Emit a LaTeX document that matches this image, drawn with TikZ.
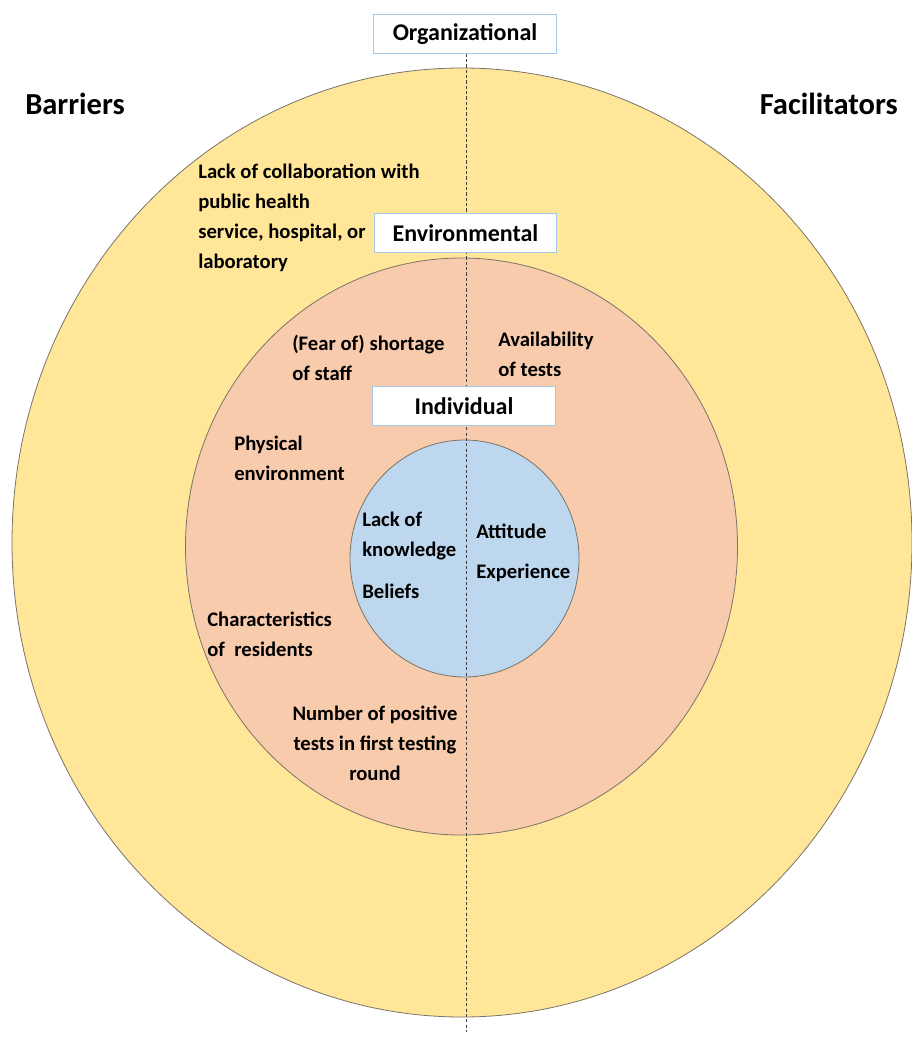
\documentclass[tikz,border=0pt]{standalone}
\usepackage{fontspec}
\setmainfont{Carlito}
\usepackage{xcolor}

\definecolor{orgfill}{HTML}{FFE699}
\definecolor{envfill}{HTML}{F8CBAD}
\definecolor{indfill}{HTML}{BDD7EE}
\definecolor{boxline}{HTML}{A4C8E8}
\definecolor{rimline}{HTML}{7A7468}

\tikzset{
  level/.style={draw=boxline, line width=0.75pt, fill=white, minimum width=137pt, minimum height=29pt, inner sep=0pt, font=\fontsize{18}{22}\selectfont\bfseries},
  lbl/.style={inner sep=0pt, align=left, anchor=west, font=\fontsize{15.5}{22.5}\selectfont\bfseries},
  side/.style={inner sep=0pt, font=\fontsize{22.9}{26}\selectfont\bfseries},
  rim/.style={draw=rimline, line width=0.6pt}
}

\begin{document}
\begin{tikzpicture}[x=0.75pt,y=0.75pt,yscale=-1]
\useasboundingbox (0,0) rectangle (912,1037);

%Shape: Ellipse [organizational]
\draw [rim, fill=orgfill] (462,542.5) ellipse [x radius=450, y radius=474.5];
%Shape: Ellipse [environmental]
\draw [rim, fill=envfill] (461.5,546.5) ellipse [x radius=276, y radius=288.5];
%Shape: Ellipse [individual]
\draw [rim, fill=indfill] (464.5,558.5) ellipse [x radius=114.5, y radius=118.5];

% Level boxes
\node [level] (org) at (465,34) {Organizational};
\coordinate (axisend) at (466,1032);
%Straight Lines [dividing axis]
\draw [dash pattern={on 2.4pt off 1.6pt}, line width=0.75pt, color=black!75] (org.south -| axisend) -- (axisend);
\node [level] (env) at (465.5,233) {Environmental};
\node [level] (ind) at (464,406) {Individual};

% Side titles
\node [side, anchor=west] (barriers) at (25,104) {Barriers};
\node [side, anchor=east] (facil) at (898,104) {Facilitators};

% Text Node
\node [lbl] (collab) at (198,218) {Lack of collaboration with\\public health\\service, hospital, or\\laboratory};
% Text Node
\node [lbl] (staff) at (292,357.5) {(Fear of) shortage\\of staff};
% Text Node
\node [lbl] (avail) at (498,354.5) {Availability\\of tests};
% Text Node
\node [lbl] (phys) at (234,458) {Physical\\environment};
% Text Node
\node [lbl] (resid) at (207,634) {Characteristics\\of~~residents};
% Text Node
\node [lbl, align=center, anchor=center] (positive) at (375,743) {Number of positive\\tests in first testing\\round};
% Text Node
\node [lbl] (knowl) at (362,536) {Lack of\\knowledge};
% Text Node
\node [lbl] (belief) at (362,591) {Beliefs};
% Text Node
\node [lbl] (attit) at (476,531) {Attitude};
% Text Node
\node [lbl] (exper) at (476,573) {Experience};

\end{tikzpicture}
\end{document}
